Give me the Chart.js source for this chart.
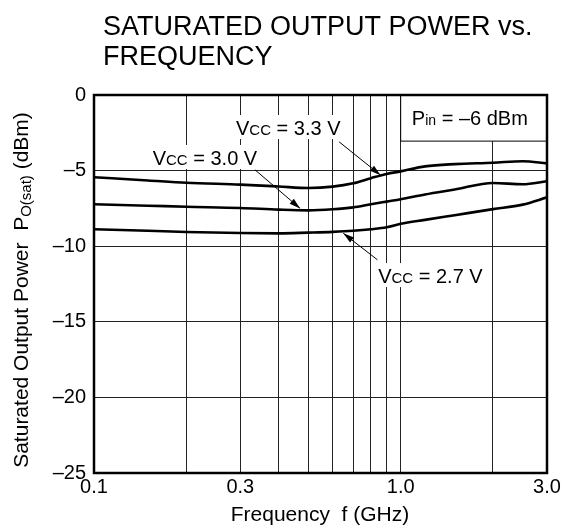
<!DOCTYPE html>
<html>
<head>
<meta charset="utf-8">
<script src="https://cdn.jsdelivr.net/npm/chart.js@4.4.1/dist/chart.umd.min.js"></script>
<style>
  html, body { margin: 0; padding: 0; background: #fff; }
  #wrap { width: 565px; height: 529px; position: relative; }
</style>
</head>
<body>
<div id="wrap"><canvas id="satChart" width="565" height="529"></canvas></div>
<script>
// frequencies (GHz) and saturated output power (dBm)
var freqs = [0.1, 0.15, 0.2, 0.3, 0.4, 0.5, 0.6, 0.7, 0.8, 0.9, 1.0, 1.2, 1.5, 2.0, 2.5, 3.0];
var vcc33 = [-5.44, -5.65, -5.8, -5.93, -6.05, -6.15, -6.06, -5.84, -5.5, -5.22, -5.05, -4.72, -4.57, -4.48, -4.38, -4.52];
var vcc30 = [-7.23, -7.32, -7.39, -7.47, -7.58, -7.63, -7.56, -7.43, -7.22, -7.05, -6.9, -6.58, -6.25, -5.82, -5.9, -5.7];
var vcc27 = [-8.88, -8.98, -9.06, -9.13, -9.15, -9.1, -9.05, -8.98, -8.88, -8.75, -8.52, -8.26, -7.95, -7.55, -7.25, -6.77];

var xGrid = [0.1, 0.2, 0.3, 0.4, 0.5, 0.6, 0.7, 0.8, 0.9, 1.0, 2.0, 3.0];
var xLabels = { 0.1: '0.1', 0.3: '0.3', 1: '1.0', 3: '3.0' };
var yTicks = [0, -5, -10, -15, -20, -25];

function pts(ys) {
  return freqs.map(function (f, i) { return { x: f, y: ys[i] }; });
}

var FONT = '"Liberation Sans", Arial, Helvetica, sans-serif';

// text with a smaller "CC" / "in" part, drawn piece by piece
function textWidth(ctx, parts) {
  var w = 0;
  parts.forEach(function (p) { ctx.font = p.size + 'px ' + FONT; w += ctx.measureText(p.t).width; });
  return w;
}

function mixedText(ctx, parts, x, y, align) {
  var w = textWidth(ctx, parts);
  var cx = align === 'center' ? x - w / 2 : x;
  ctx.textAlign = 'left';
  ctx.textBaseline = 'alphabetic';
  parts.forEach(function (p) {
    ctx.font = p.size + 'px ' + FONT;
    ctx.fillText(p.t, cx, y + (p.dy || 0));
    cx += ctx.measureText(p.t).width;
  });
  return w;
}

function vccParts(v) {
  return [{ t: 'V', size: 20 }, { t: 'CC', size: 15 }, { t: ' = ' + v + ' V', size: 20 }];
}

function arrow(ctx, x1, y1, x2, y2) {
  ctx.strokeStyle = '#000';
  ctx.fillStyle = '#000';
  ctx.lineWidth = 1;
  ctx.beginPath();
  ctx.moveTo(x1, y1);
  ctx.lineTo(x2, y2);
  ctx.stroke();
  var a = Math.atan2(y2 - y1, x2 - x1), L = 11, W = 3.2;
  ctx.beginPath();
  ctx.moveTo(x2, y2);
  ctx.lineTo(x2 - L * Math.cos(a) + W * Math.sin(a), y2 - L * Math.sin(a) - W * Math.cos(a));
  ctx.lineTo(x2 - L * Math.cos(a) - W * Math.sin(a), y2 - L * Math.sin(a) + W * Math.cos(a));
  ctx.closePath();
  ctx.fill();
}

// label anchors in data units: text centre, arrow tail, arrow head
var notes = [
  { v: '3.3', tx: 0.43, ty: -2.45, ax: 0.63, ay: -3.1, hx: 0.86, hy: -5.3 },
  { v: '3.0', tx: 0.23, ty: -4.43, ax: 0.335, ay: -4.95, hx: 0.47, hy: -7.5 },
  { v: '2.7', tx: 1.25, ty: -12.24, ax: 0.84, ay: -10.9, hx: 0.65, hy: -9.15 }
];

var decor = {
  id: 'decor',
  beforeDatasetsDraw: function (chart) {
    var ctx = chart.ctx, xs = chart.scales.x, ys = chart.scales.y, ca = chart.chartArea;
    ctx.save();
    ctx.fillStyle = '#fff';
    // white patches behind labels
    notes.forEach(function (n) {
      var px = xs.getPixelForValue(n.tx), py = ys.getPixelForValue(n.ty);
      var w = textWidth(ctx, vccParts(n.v));
      ctx.fillRect(px - w / 2 - 3, py - 17, w + 6, 24);
    });
    // Pin box
    var bx = xs.getPixelForValue(1.0), by = ys.getPixelForValue(-3.05);
    ctx.fillRect(bx, ca.top, ca.right - bx, by - ca.top);
    ctx.strokeStyle = '#000';
    ctx.lineWidth = 1;
    ctx.beginPath();
    ctx.moveTo(bx, ca.top);
    ctx.lineTo(bx, by);
    ctx.lineTo(ca.right, by);
    ctx.stroke();
    ctx.fillStyle = '#000';
    mixedText(ctx, [{ t: 'P', size: 20 }, { t: 'in', size: 14 }, { t: ' = \u20136 dBm', size: 20 }],
      (bx + ca.right) / 2 - 4, ca.top + 30, 'center');
    ctx.restore();
  },
  afterDatasetsDraw: function (chart) {
    var ctx = chart.ctx, xs = chart.scales.x, ys = chart.scales.y, ca = chart.chartArea;
    ctx.save();
    ctx.fillStyle = '#000';
    notes.forEach(function (n) {
      var px = xs.getPixelForValue(n.tx), py = ys.getPixelForValue(n.ty);
      mixedText(ctx, vccParts(n.v), px, py + 3, 'center');
      arrow(ctx, xs.getPixelForValue(n.ax), ys.getPixelForValue(n.ay),
        xs.getPixelForValue(n.hx), ys.getPixelForValue(n.hy));
    });
    // plot frame
    ctx.strokeStyle = '#000';
    ctx.lineWidth = 2.5;
    ctx.strokeRect(ca.left, ca.top, ca.right - ca.left, ca.bottom - ca.top);

    // titles
    ctx.fillStyle = '#000';
    ctx.font = '27px ' + FONT;
    ctx.textAlign = 'left';
    ctx.textBaseline = 'alphabetic';
    ctx.fillText('SATURATED OUTPUT POWER vs.', 103, 35);
    ctx.fillText('FREQUENCY', 103, 65);

    ctx.font = '21px ' + FONT;
    ctx.textAlign = 'center';
    ctx.fillText('Frequency  f (GHz)', 320, 521);

    ctx.translate(28, 290);
    ctx.rotate(-Math.PI / 2);
    mixedText(ctx, [{ t: 'Saturated Output Power  P', size: 21 }, { t: 'O(sat)', size: 15, dy: 3 }, { t: ' (dBm)', size: 21 }],
      0, 0, 'center');
    ctx.restore();
  }
};

function lineSet(label, ys) {
  return {
    label: label,
    data: pts(ys),
    borderColor: '#000',
    borderWidth: 2.6,
    pointRadius: 0,
    fill: false,
    cubicInterpolationMode: 'monotone'
  };
}

var ctx = document.getElementById('satChart').getContext('2d');
var satChart = new Chart(ctx, {
  type: 'line',
  data: {
    datasets: [lineSet('VCC = 3.3 V', vcc33), lineSet('VCC = 3.0 V', vcc30), lineSet('VCC = 2.7 V', vcc27)]
  },
  options: {
    responsive: false,
    animation: false,
    layout: { padding: { left: 0, top: 95, right: 18, bottom: 0 } },
    plugins: { legend: { display: false }, tooltip: { enabled: false } },
    scales: {
      x: {
        type: 'logarithmic',
        min: 0.1,
        max: 3.0,
        afterBuildTicks: function (s) { s.ticks = xGrid.map(function (v) { return { value: v }; }); },
        afterFit: function (s) { s.height = 529 - 473; },
        ticks: {
          autoSkip: false,
          maxRotation: 0,
          color: '#000',
          padding: 2,
          font: { family: FONT, size: 20 },
          callback: function (v) { return xLabels[v] || ''; }
        },
        grid: { color: '#222', lineWidth: 1, drawTicks: false },
        border: { display: false }
      },
      y: {
        min: -25,
        max: 0,
        afterBuildTicks: function (s) { s.ticks = yTicks.map(function (v) { return { value: v }; }); },
        afterFit: function (s) { s.width = 94; },
        ticks: {
          color: '#000',
          padding: 8,
          font: { family: FONT, size: 20 },
          callback: function (v) { return v === 0 ? '0' : '\u2013' + Math.abs(v); }
        },
        grid: { color: '#222', lineWidth: 1, drawTicks: false },
        border: { display: false }
      }
    }
  },
  plugins: [decor]
});
</script>
</body>
</html>
